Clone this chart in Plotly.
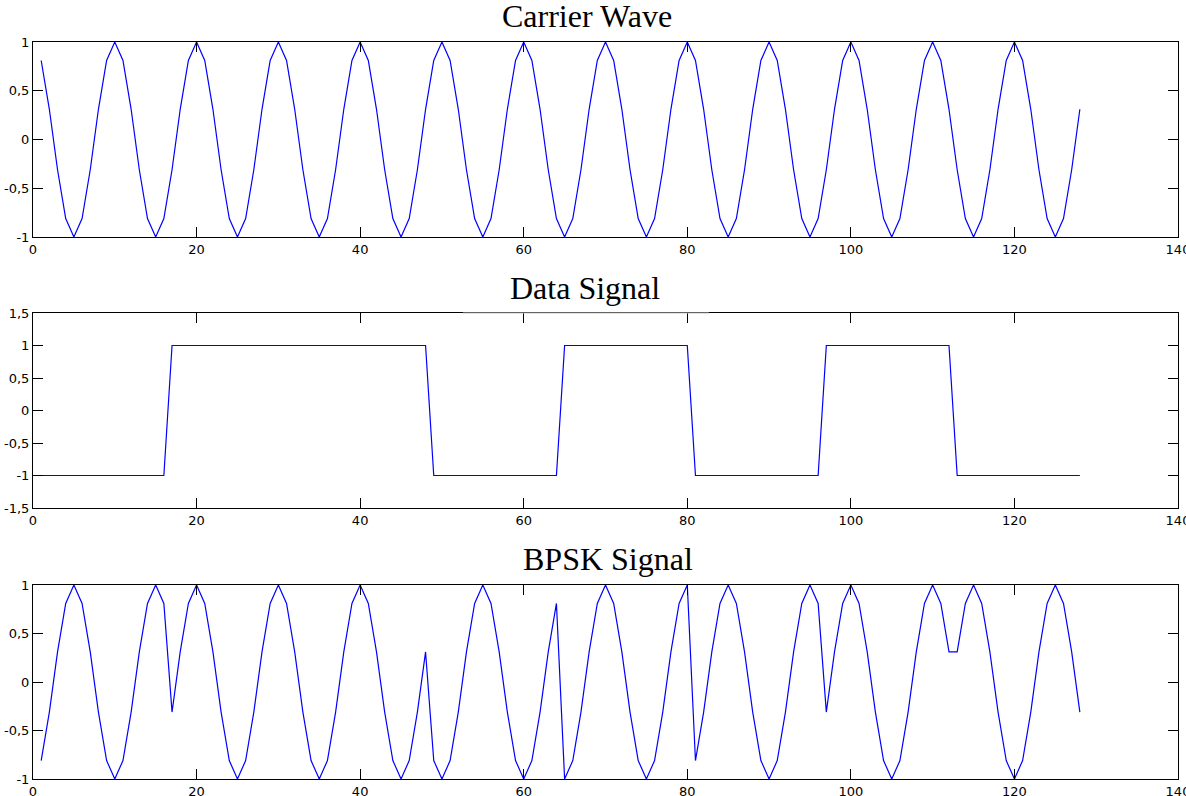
import plotly.graph_objects as go
from plotly.subplots import make_subplots

# sample index 1..128
n = list(range(1, 129))

carrier = [
    0.81, 0.31, -0.31, -0.81, -1, -0.81, -0.31, 0.31, 0.81, 1,
    0.81, 0.31, -0.31, -0.81, -1, -0.81, -0.31, 0.31, 0.81, 1,
    0.81, 0.31, -0.31, -0.81, -1, -0.81, -0.31, 0.31, 0.81, 1,
    0.81, 0.31, -0.31, -0.81, -1, -0.81, -0.31, 0.31, 0.81, 1,
    0.81, 0.31, -0.31, -0.81, -1, -0.81, -0.31, 0.31, 0.81, 1,
    0.81, 0.31, -0.31, -0.81, -1, -0.81, -0.31, 0.31, 0.81, 1,
    0.81, 0.31, -0.31, -0.81, -1, -0.81, -0.31, 0.31, 0.81, 1,
    0.81, 0.31, -0.31, -0.81, -1, -0.81, -0.31, 0.31, 0.81, 1,
    0.81, 0.31, -0.31, -0.81, -1, -0.81, -0.31, 0.31, 0.81, 1,
    0.81, 0.31, -0.31, -0.81, -1, -0.81, -0.31, 0.31, 0.81, 1,
    0.81, 0.31, -0.31, -0.81, -1, -0.81, -0.31, 0.31, 0.81, 1,
    0.81, 0.31, -0.31, -0.81, -1, -0.81, -0.31, 0.31, 0.81, 1,
    0.81, 0.31, -0.31, -0.81, -1, -0.81, -0.31, 0.31,
]

data_signal = [
    -1, -1, -1, -1, -1, -1, -1, -1, -1, -1,
    -1, -1, -1, -1, -1, -1, 1, 1, 1, 1,
    1, 1, 1, 1, 1, 1, 1, 1, 1, 1,
    1, 1, 1, 1, 1, 1, 1, 1, 1, 1,
    1, 1, 1, 1, 1, 1, 1, 1, -1, -1,
    -1, -1, -1, -1, -1, -1, -1, -1, -1, -1,
    -1, -1, -1, -1, 1, 1, 1, 1, 1, 1,
    1, 1, 1, 1, 1, 1, 1, 1, 1, 1,
    -1, -1, -1, -1, -1, -1, -1, -1, -1, -1,
    -1, -1, -1, -1, -1, -1, 1, 1, 1, 1,
    1, 1, 1, 1, 1, 1, 1, 1, 1, 1,
    1, 1, -1, -1, -1, -1, -1, -1, -1, -1,
    -1, -1, -1, -1, -1, -1, -1, -1,
]

bpsk = [
    -0.81, -0.31, 0.31, 0.81, 1, 0.81, 0.31, -0.31, -0.81, -1,
    -0.81, -0.31, 0.31, 0.81, 1, 0.81, -0.31, 0.31, 0.81, 1,
    0.81, 0.31, -0.31, -0.81, -1, -0.81, -0.31, 0.31, 0.81, 1,
    0.81, 0.31, -0.31, -0.81, -1, -0.81, -0.31, 0.31, 0.81, 1,
    0.81, 0.31, -0.31, -0.81, -1, -0.81, -0.31, 0.31, -0.81, -1,
    -0.81, -0.31, 0.31, 0.81, 1, 0.81, 0.31, -0.31, -0.81, -1,
    -0.81, -0.31, 0.31, 0.81, -1, -0.81, -0.31, 0.31, 0.81, 1,
    0.81, 0.31, -0.31, -0.81, -1, -0.81, -0.31, 0.31, 0.81, 1,
    -0.81, -0.31, 0.31, 0.81, 1, 0.81, 0.31, -0.31, -0.81, -1,
    -0.81, -0.31, 0.31, 0.81, 1, 0.81, -0.31, 0.31, 0.81, 1,
    0.81, 0.31, -0.31, -0.81, -1, -0.81, -0.31, 0.31, 0.81, 1,
    0.81, 0.31, 0.31, 0.81, 1, 0.81, 0.31, -0.31, -0.81, -1,
    -0.81, -0.31, 0.31, 0.81, 1, 0.81, 0.31, -0.31,
]

titles = ["Carrier Wave", "Data Signal", "BPSK Signal"]
x_ticks = [0, 20, 40, 60, 80, 100, 120, 140]
x_ticktext = ["0", "20", "40", "60", "80", "100", "120", "140"]
y_ticks_a = [-1, -0.5, 0, 0.5, 1]
y_ticktext_a = ["-1", "-0,5", "0", "0,5", "1"]
y_ticks_b = [-1.5, -1, -0.5, 0, 0.5, 1, 1.5]
y_ticktext_b = ["-1,5", "-1", "-0,5", "0", "0,5", "1", "1,5"]

W, H = 1186, 796
L, R, T, B = 33, 8, 42, 17
ph = H - T - B
def py(px):  # pixel row -> paper y
    return (H - B - px) / ph
def pxx(px):
    return (px - L) / (W - L - R)

fig = make_subplots(rows=3, cols=1)
series = [carrier, data_signal, bpsk]
for i, s in enumerate(series):
    fig.add_trace(go.Scatter(x=n, y=s, mode="lines",
                             line=dict(color="#0000ff", width=1.2),
                             showlegend=False, hoverinfo="skip"),
                  row=i + 1, col=1)

domains = [(py(237), 1.0), (py(508), py(313)), (0.0, py(585))]
yranges = [[-1, 1], [-1.5, 1.5], [-1, 1]]
yt = [(y_ticks_a, y_ticktext_a), (y_ticks_b, y_ticktext_b), (y_ticks_a, y_ticktext_a)]

tickfont = dict(family="DejaVu Sans", size=13, color="black")
for i in range(3):
    xa = "xaxis" if i == 0 else f"xaxis{i+1}"
    ya = "yaxis" if i == 0 else f"yaxis{i+1}"
    fig.layout[xa].update(domain=[0, 1], range=[0, 140], tickvals=x_ticks,
                          ticktext=x_ticktext, ticks="inside", ticklen=10,
                          tickcolor="black", showline=True, linecolor="black",
                          linewidth=1, mirror="ticks", showgrid=False,
                          zeroline=False, tickfont=tickfont, automargin=False,
                          ticklabeloverflow="allow")
    fig.layout[ya].update(domain=list(domains[i]), range=yranges[i],
                          tickvals=yt[i][0], ticktext=yt[i][1],
                          ticks="inside", ticklen=10, tickcolor="black",
                          showline=True, linecolor="black", linewidth=1,
                          mirror="ticks", showgrid=False, zeroline=False,
                          tickfont=tickfont, automargin=False,
                          ticklabeloverflow="allow")

title_pos = [(587, 16), (585, 288), (608, 559)]
for t, (cx, cy) in zip(titles, title_pos):
    fig.add_annotation(text=t, xref="paper", yref="paper", x=pxx(cx), y=py(cy),
                       xanchor="center", yanchor="middle", showarrow=False,
                       font=dict(family="Liberation Serif", size=32, color="black"))

# faint segment where the title box overlapped the middle axes' top border
fig.add_shape(type="line", xref="paper", yref="paper",
              x0=pxx(463), x1=pxx(709), y0=py(313), y1=py(313),
              line=dict(color="#c8c8c8", width=1), layer="above")

fig.update_layout(width=W, height=H, margin=dict(l=L, r=R, t=T, b=B),
                  plot_bgcolor="white", paper_bgcolor="white")

fig.write_html("out.html",
               config={"displayModeBar": False},
               post_script="document.body.style.margin='0';"
                           "document.body.style.overflow='hidden';")
